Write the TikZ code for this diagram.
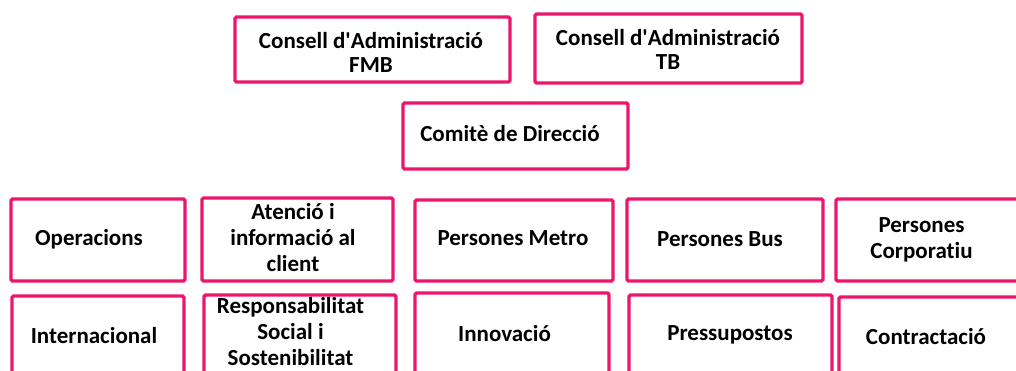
\documentclass[tikz,border=0pt]{standalone}
\usepackage{fontspec}
\setmainfont{Carlito}[Ligatures={NoCommon}]
\definecolor{orgpink}{RGB}{237,22,111}

\begin{document}
\begin{tikzpicture}[x=1pt, y=-1pt,
    box/.style={draw=orgpink, line width=3.3pt, rounded corners=1.5pt},
    lbl/.style={inner sep=0pt, align=center, font=\bfseries\fontsize{23}{26}\selectfont},
    toplbl/.style={lbl, font=\bfseries\fontsize{23}{24}\selectfont}]
  \useasboundingbox (0,0) rectangle (1016,371);
  \clip (0,0) rectangle (1016,371);
  % boards and committee
  \draw[box] (235,17) rectangle (510,82);
  \node[toplbl] (fmb) at (371,52) {Consell d\textquotesingle Administració\\FMB};
  \draw[box] (535,14) rectangle (802,83);
  \node[toplbl] (tb) at (668,49.5) {Consell d\textquotesingle Administració\\TB};
  \draw[box] (403,103) rectangle (628,169);
  \node[lbl, anchor=base] (comite) at (510,142) {Comitè de Direcció};
  % first row of areas
  \draw[box] (11,199) rectangle (185,281);
  \node[lbl, anchor=base] (operacions) at (89,245) {Operacions};
  \draw[box] (202,198) rectangle (393,281);
  \node[lbl] (atencio) at (293,238) {Atenció i\\informació al\\client};
  \draw[box] (415,200) rectangle (613,281);
  \node[lbl, anchor=base] (metro) at (513,245) {Persones Metro};
  \draw[box] (627,199) rectangle (823,281);
  \node[lbl, anchor=base] (bus) at (720,247) {Persones Bus};
  \draw[box] (836,199) rectangle (1030,281);
  \node[lbl] (corporatiu) at (921.5,239.5) {Persones\\Corporatiu};
  % second row of areas
  \draw[box] (12,296) rectangle (184,390);
  \node[lbl, anchor=base] (internacional) at (94,343) {Internacional};
  \draw[box] (204,295) rectangle (396,390);
  \node[lbl] (rsc) at (290.5,332) {Responsabilitat\\Social i\\Sostenibilitat};
  \draw[box] (415,293) rectangle (609,390);
  \node[lbl, anchor=base] (innovacio) at (504.5,341) {Innovació};
  \draw[box] (629,295) rectangle (832,390);
  \node[lbl, anchor=base] (pressupostos) at (730,340) {Pressupostos};
  \draw[box] (839,297) rectangle (1030,390);
  \node[lbl, anchor=base] (contractacio) at (926,344) {Contractació};
\end{tikzpicture}
\end{document}
